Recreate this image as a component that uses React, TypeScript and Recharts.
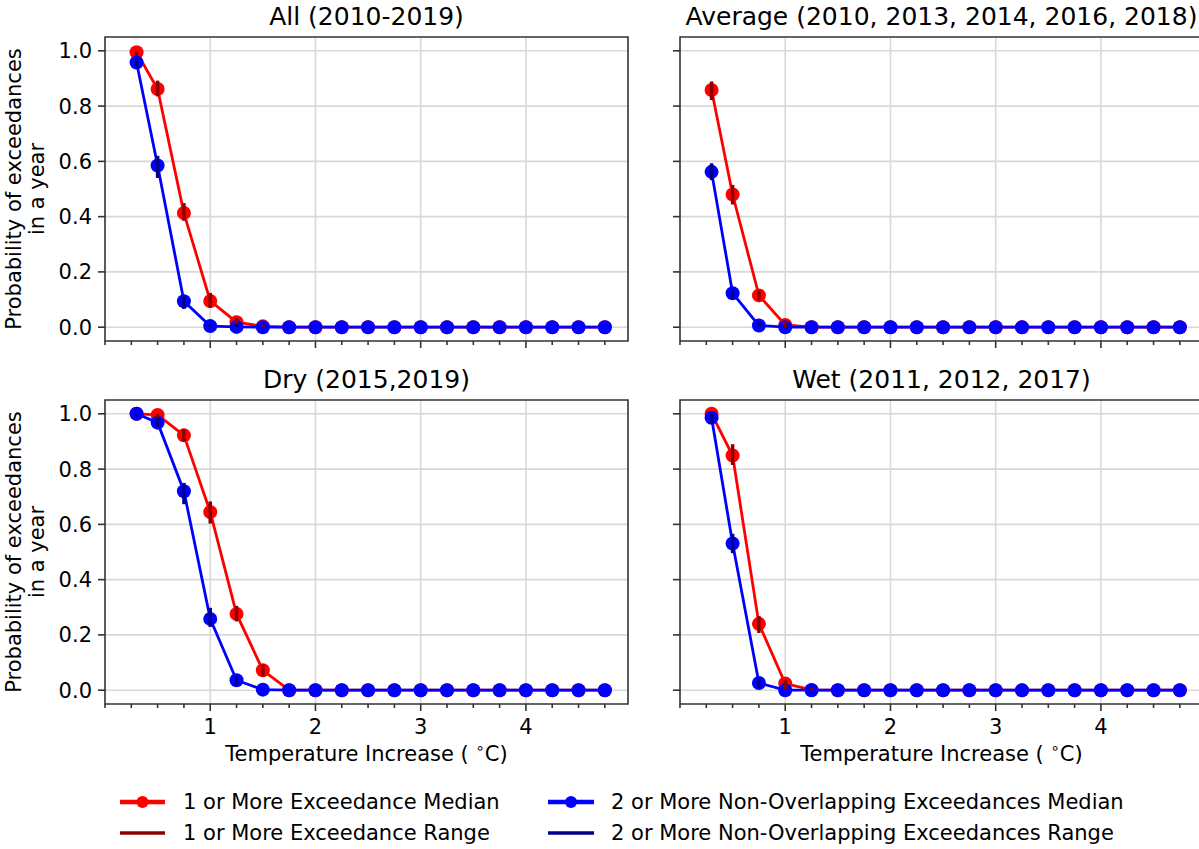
import React from 'react'
import { ComposedChart, Line, XAxis, YAxis, CartesianGrid, ErrorBar, ReferenceArea } from 'recharts'

const temps = [0.3, 0.5, 0.75, 1, 1.25, 1.5, 1.75, 2, 2.25, 2.5, 2.75, 3, 3.25, 3.5, 3.75, 4, 4.25, 4.5, 4.75]
const xTicks = [0, 0.25, 0.5, 0.75, 1, 1.25, 1.5, 1.75, 2, 2.25, 2.5, 2.75, 3, 3.25, 3.5, 3.75, 4, 4.25, 4.5, 4.75]
const xMajor = [1, 2, 3, 4]
const yTicks = [0, 0.2, 0.4, 0.6, 0.8, 1.0]

// All (2010-2019)
const allOneMed = [0.995, 0.862, 0.413, 0.095, 0.018, 0.003, 0, 0, 0, 0, 0, 0, 0, 0, 0, 0, 0, 0, 0]
const allOneLo = [0.982, 0.835, 0.385, 0.07, 0.004, 0, 0, 0, 0, 0, 0, 0, 0, 0, 0, 0, 0, 0, 0]
const allOneHi = [1.0, 0.892, 0.449, 0.124, 0.034, 0.01, 0, 0, 0, 0, 0, 0, 0, 0, 0, 0, 0, 0, 0]
const allTwoMed = [0.958, 0.585, 0.094, 0.004, 0.001, 0, 0, 0, 0, 0, 0, 0, 0, 0, 0, 0, 0, 0, 0]
const allTwoLo = [0.94, 0.54, 0.066, 0, 0, 0, 0, 0, 0, 0, 0, 0, 0, 0, 0, 0, 0, 0, 0]
const allTwoHi = [0.975, 0.62, 0.112, 0.01, 0.01, 0, 0, 0, 0, 0, 0, 0, 0, 0, 0, 0, 0, 0, 0]

// Average (2010, 2013, 2014, 2016, 2018)
const avgOneMed = [0.858, 0.48, 0.115, 0.008, 0, 0, 0, 0, 0, 0, 0, 0, 0, 0, 0, 0, 0, 0, 0]
const avgOneLo = [0.822, 0.444, 0.097, 0, 0, 0, 0, 0, 0, 0, 0, 0, 0, 0, 0, 0, 0, 0, 0]
const avgOneHi = [0.889, 0.515, 0.133, 0.018, 0, 0, 0, 0, 0, 0, 0, 0, 0, 0, 0, 0, 0, 0, 0]
const avgTwoMed = [0.562, 0.123, 0.006, 0, 0, 0, 0, 0, 0, 0, 0, 0, 0, 0, 0, 0, 0, 0, 0]
const avgTwoLo = [0.532, 0.103, 0, 0, 0, 0, 0, 0, 0, 0, 0, 0, 0, 0, 0, 0, 0, 0, 0]
const avgTwoHi = [0.593, 0.139, 0.018, 0, 0, 0, 0, 0, 0, 0, 0, 0, 0, 0, 0, 0, 0, 0, 0]

// Dry (2015,2019)
const dryOneMed = [1.0, 0.996, 0.922, 0.645, 0.276, 0.072, 0, 0, 0, 0, 0, 0, 0, 0, 0, 0, 0, 0, 0]
const dryOneLo = [1.0, 0.983, 0.9, 0.603, 0.249, 0.05, 0, 0, 0, 0, 0, 0, 0, 0, 0, 0, 0, 0, 0]
const dryOneHi = [1.0, 1.0, 0.944, 0.683, 0.305, 0.093, 0, 0, 0, 0, 0, 0, 0, 0, 0, 0, 0, 0, 0]
const dryTwoMed = [1.0, 0.968, 0.72, 0.258, 0.036, 0.002, 0, 0, 0, 0, 0, 0, 0, 0, 0, 0, 0, 0, 0]
const dryTwoLo = [0.985, 0.952, 0.673, 0.229, 0.017, 0, 0, 0, 0, 0, 0, 0, 0, 0, 0, 0, 0, 0, 0]
const dryTwoHi = [1.0, 0.988, 0.75, 0.298, 0.05, 0.005, 0, 0, 0, 0, 0, 0, 0, 0, 0, 0, 0, 0, 0]

// Wet (2011, 2012, 2017)
const wetOneMed = [1.0, 0.849, 0.24, 0.024, 0.001, 0, 0, 0, 0, 0, 0, 0, 0, 0, 0, 0, 0, 0, 0]
const wetOneLo = [1.0, 0.815, 0.207, 0.002, 0, 0, 0, 0, 0, 0, 0, 0, 0, 0, 0, 0, 0, 0, 0]
const wetOneHi = [1.0, 0.89, 0.268, 0.038, 0.008, 0, 0, 0, 0, 0, 0, 0, 0, 0, 0, 0, 0, 0, 0]
const wetTwoMed = [0.986, 0.531, 0.026, 0, 0, 0, 0, 0, 0, 0, 0, 0, 0, 0, 0, 0, 0, 0, 0]
const wetTwoLo = [0.964, 0.496, 0.008, 0, 0, 0, 0, 0, 0, 0, 0, 0, 0, 0, 0, 0, 0, 0, 0]
const wetTwoHi = [1.0, 0.566, 0.041, 0, 0, 0, 0, 0, 0, 0, 0, 0, 0, 0, 0, 0, 0, 0, 0]

const RED = '#ff0000'
const BLUE = '#0000ff'
const DARKRED = '#8b0000'
const DARKBLUE = '#00008b'
const FONT = '"DejaVu Sans", sans-serif'

const PLOT_W = 523
const PLOT_H = 304
const M_LEFT = 100
const M_TOP = 40
const M_RIGHT = 10
const M_BOTTOM = 70

function buildRows(oneMed: number[], oneLo: number[], oneHi: number[], twoMed: number[], twoLo: number[], twoHi: number[]) {
  return temps.map((t, i) => ({
    t,
    one: oneMed[i],
    oneErr: [oneMed[i] - oneLo[i], oneHi[i] - oneMed[i]],
    two: twoMed[i],
    twoErr: [twoMed[i] - twoLo[i], twoHi[i] - twoMed[i]],
  }))
}

function XTick(props: any) {
  const { x, y, payload, showLabel } = props
  const v = payload.value
  const major = xMajor.includes(v)
  return (
    <g>
      <line x1={x} x2={x} y1={y} y2={y + (major ? 7 : 4)} stroke="#333" strokeWidth={1.6} />
      {major && showLabel && (
        <text x={x} y={y + 30} textAnchor="middle" fontSize={21} fontFamily={FONT} fill="#000">
          {v}
        </text>
      )}
    </g>
  )
}

function YTick(props: any) {
  const { x, y, payload, showLabel } = props
  return (
    <g>
      <line x1={x - 7} x2={x} y1={y} y2={y} stroke="#333" strokeWidth={1.6} />
      {showLabel && (
        <text x={x - 13} y={y + 7.5} textAnchor="end" fontSize={21} fontFamily={FONT} fill="#000">
          {Number(payload.value).toFixed(1)}
        </text>
      )}
    </g>
  )
}

function Panel({ left, top, title, rows, bottomRow, leftCol }: any) {
  const cx = left + PLOT_W / 2
  const cy = top + PLOT_H / 2
  return (
    <>
      <div style={{ position: 'absolute', left: left - M_LEFT, top: top - M_TOP }}>
        <ComposedChart
          width={M_LEFT + PLOT_W + M_RIGHT}
          height={M_TOP + PLOT_H + M_BOTTOM}
          data={rows}
          margin={{ top: M_TOP, right: M_RIGHT, bottom: 0, left: 0 }}
        >
          <CartesianGrid stroke="#d8d8d8" strokeWidth={1.6} verticalValues={xMajor} horizontalValues={yTicks} />
          <XAxis
            dataKey="t"
            type="number"
            domain={[0, 4.97]}
            ticks={xTicks}
            interval={0}
            height={M_BOTTOM}
            axisLine={false}
            tickLine={false}
            tickSize={0}
            tickMargin={0}
            tick={(p: any) => <XTick {...p} showLabel={bottomRow} />}
          />
          <YAxis
            type="number"
            domain={[-0.05, 1.05]}
            ticks={yTicks}
            interval={0}
            width={M_LEFT}
            axisLine={false}
            tickLine={false}
            tickSize={0}
            tickMargin={0}
            tick={(p: any) => <YTick {...p} showLabel={leftCol} />}
          />
          <Line
            type="linear"
            dataKey="one"
            stroke={RED}
            strokeWidth={2.8}
            dot={{ r: 7, fill: RED, stroke: 'none' }}
            activeDot={false}
            isAnimationActive={false}
          />
          <Line dataKey="one" stroke="none" dot={false} activeDot={false} isAnimationActive={false}>
            <ErrorBar dataKey="oneErr" width={0} strokeWidth={3.5} stroke={DARKRED} direction="y" zIndex={650} />
          </Line>
          <Line
            type="linear"
            dataKey="two"
            stroke={BLUE}
            strokeWidth={2.8}
            dot={{ r: 7, fill: BLUE, stroke: 'none' }}
            activeDot={false}
            isAnimationActive={false}
          />
          <Line dataKey="two" stroke="none" dot={false} activeDot={false} isAnimationActive={false}>
            <ErrorBar dataKey="twoErr" width={0} strokeWidth={3.5} stroke={DARKBLUE} direction="y" zIndex={660} />
          </Line>
          <ReferenceArea
            x1={0}
            x2={4.97}
            y1={-0.05}
            y2={1.05}
            fill="none"
            fillOpacity={0}
            stroke="#333"
            strokeWidth={1.6}
            ifOverflow="visible"
          />
        </ComposedChart>
      </div>
      <svg
        width={1199}
        height={849}
        style={{ position: 'absolute', left: 0, top: 0, pointerEvents: 'none', overflow: 'visible' }}
      >
        <text x={cx} y={top - 12} textAnchor="middle" fontSize={25} fontFamily={FONT} fill="#000">
          {title}
        </text>
        {leftCol && (
          <text transform={`translate(21, ${cy}) rotate(-90)`} textAnchor="middle" fontSize={21} fontFamily={FONT} fill="#000">
            <tspan x={0} dy={0}>Probability of exceedances</tspan>
            <tspan x={0} dy={23}>in a year</tspan>
          </text>
        )}
        {bottomRow && (
          <text x={cx} y={top + PLOT_H + 57} textAnchor="middle" fontSize={21} fontFamily={FONT} fill="#000">
            {'Temperature Increase ( '}
            <tspan dy={-8} fontSize={15}>∘</tspan>
            <tspan dy={8}>C)</tspan>
          </text>
        )}
      </svg>
    </>
  )
}

function Legend() {
  return (
    <svg width={1199} height={849} style={{ position: 'absolute', left: 0, top: 0, pointerEvents: 'none' }}>
      <line x1={120} x2={165} y1={802} y2={802} stroke={RED} strokeWidth={4.5} />
      <circle cx={142.5} cy={802} r={6} fill={RED} />
      <text x={183} y={809} fontSize={21} fontFamily={FONT} fill="#000">1 or More Exceedance Median</text>
      <line x1={120} x2={165} y1={833} y2={833} stroke={DARKRED} strokeWidth={3.5} />
      <text x={183} y={840} fontSize={21} fontFamily={FONT} fill="#000">1 or More Exceedance Range</text>
      <line x1={548} x2={594} y1={802} y2={802} stroke={BLUE} strokeWidth={4.5} />
      <circle cx={571} cy={802} r={6} fill={BLUE} />
      <text x={611} y={809} fontSize={21} fontFamily={FONT} fill="#000">2 or More Non-Overlapping Exceedances Median</text>
      <line x1={548} x2={594} y1={833} y2={833} stroke={DARKBLUE} strokeWidth={3.5} />
      <text x={611} y={840} fontSize={21} fontFamily={FONT} fill="#000">2 or More Non-Overlapping Exceedances Range</text>
    </svg>
  )
}

export default function App() {
  const allRows = buildRows(allOneMed, allOneLo, allOneHi, allTwoMed, allTwoLo, allTwoHi)
  const avgRows = buildRows(avgOneMed, avgOneLo, avgOneHi, avgTwoMed, avgTwoLo, avgTwoHi)
  const dryRows = buildRows(dryOneMed, dryOneLo, dryOneHi, dryTwoMed, dryTwoLo, dryTwoHi)
  const wetRows = buildRows(wetOneMed, wetOneLo, wetOneHi, wetTwoMed, wetTwoLo, wetTwoHi)
  return (
    <div
      style={{
        position: 'absolute',
        left: 0,
        top: 0,
        width: 1199,
        height: 849,
        overflow: 'hidden',
        background: '#fff',
        fontFamily: FONT,
      }}
    >
      <Panel left={105} top={37} title="All (2010-2019)" rows={allRows} bottomRow={false} leftCol={true} />
      <Panel left={680} top={37} title="Average (2010, 2013, 2014, 2016, 2018)" rows={avgRows} bottomRow={false} leftCol={false} />
      <Panel left={105} top={400} title="Dry (2015,2019)" rows={dryRows} bottomRow={true} leftCol={true} />
      <Panel left={680} top={400} title="Wet (2011, 2012, 2017)" rows={wetRows} bottomRow={true} leftCol={false} />
      <Legend />
    </div>
  )
}
